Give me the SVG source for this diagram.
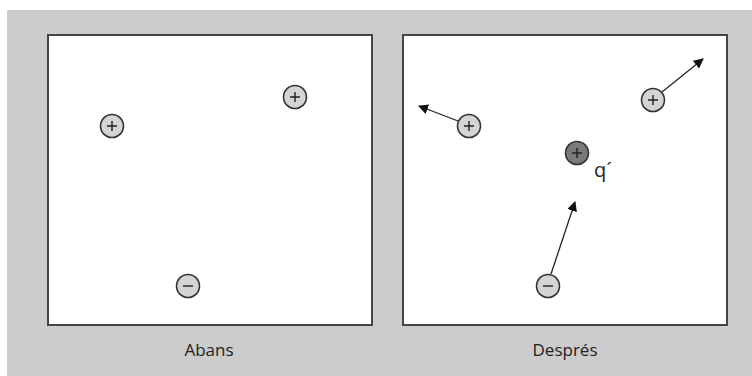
<svg xmlns="http://www.w3.org/2000/svg" width="752" height="376" viewBox="0 0 752 376">
  <defs>
    <marker id="arrow" viewBox="0 0 10 10" refX="9" refY="5" markerWidth="10" markerHeight="10" markerUnits="userSpaceOnUse" orient="auto">
      <path d="M0,0 L10,5 L0,10 z" fill="#111"/>
    </marker>
    <style>
      .panel { fill: #fff; stroke: #444; stroke-width: 2; }
      .charge { fill: #d4d4d4; stroke: #333; stroke-width: 1.6; }
      .test { fill: #7a7a7a; stroke: #333; stroke-width: 1.6; }
      .sign { stroke: #222; stroke-width: 1.4; fill: none; }
      .label { font-family: "Open Sans", "Liberation Sans", sans-serif; font-size: 17px; fill: #222; text-anchor: middle; }
      .conn { stroke: #222; stroke-width: 1.3; fill: none; marker-end: url(#arrow); }
    </style>
  </defs>

  <rect x="7" y="10" width="745" height="366" fill="#cccccc"/>

  <g id="panel-abans">
    <rect class="panel" x="48" y="35" width="324" height="290"/>
    <text class="label" x="209" y="356">Abans</text>
  </g>
  <g id="panel-despres">
    <rect class="panel" x="403" y="35" width="324" height="290"/>
    <text class="label" x="565" y="356">Després</text>
  </g>

  <g id="connectors">
    <line class="conn" x1="458" y1="121" x2="419" y2="106"/>
    <line class="conn" x1="551" y1="274" x2="575" y2="202"/>
    <line class="conn" x1="662" y1="92" x2="703" y2="59"/>
  </g>

  <g id="a-plus1">
    <circle class="charge" cx="112" cy="126" r="11.5"/>
    <path class="sign" d="M107,126 h10 M112,121 v10"/>
  </g>
  <g id="a-plus2">
    <circle class="charge" cx="295" cy="97" r="11.5"/>
    <path class="sign" d="M290,97 h10 M295,92 v10"/>
  </g>
  <g id="a-minus">
    <circle class="charge" cx="188" cy="286" r="11.5"/>
    <path class="sign" d="M183,286 h10"/>
  </g>

  <g id="d-plus1">
    <circle class="charge" cx="469" cy="126" r="11.5"/>
    <path class="sign" d="M464,126 h10 M469,121 v10"/>
  </g>
  <g id="d-test">
    <circle class="test" cx="577" cy="153" r="11.5"/>
    <path class="sign" d="M572,153 h10 M577,148 v10"/>
    <text class="label" x="603" y="177" style="font-size:20px">q´</text>
  </g>
  <g id="d-minus">
    <circle class="charge" cx="548" cy="286" r="11.5"/>
    <path class="sign" d="M543,286 h10"/>
  </g>
  <g id="d-plus2">
    <circle class="charge" cx="653" cy="100" r="11.5"/>
    <path class="sign" d="M648,100 h10 M653,95 v10"/>
  </g>
</svg>
